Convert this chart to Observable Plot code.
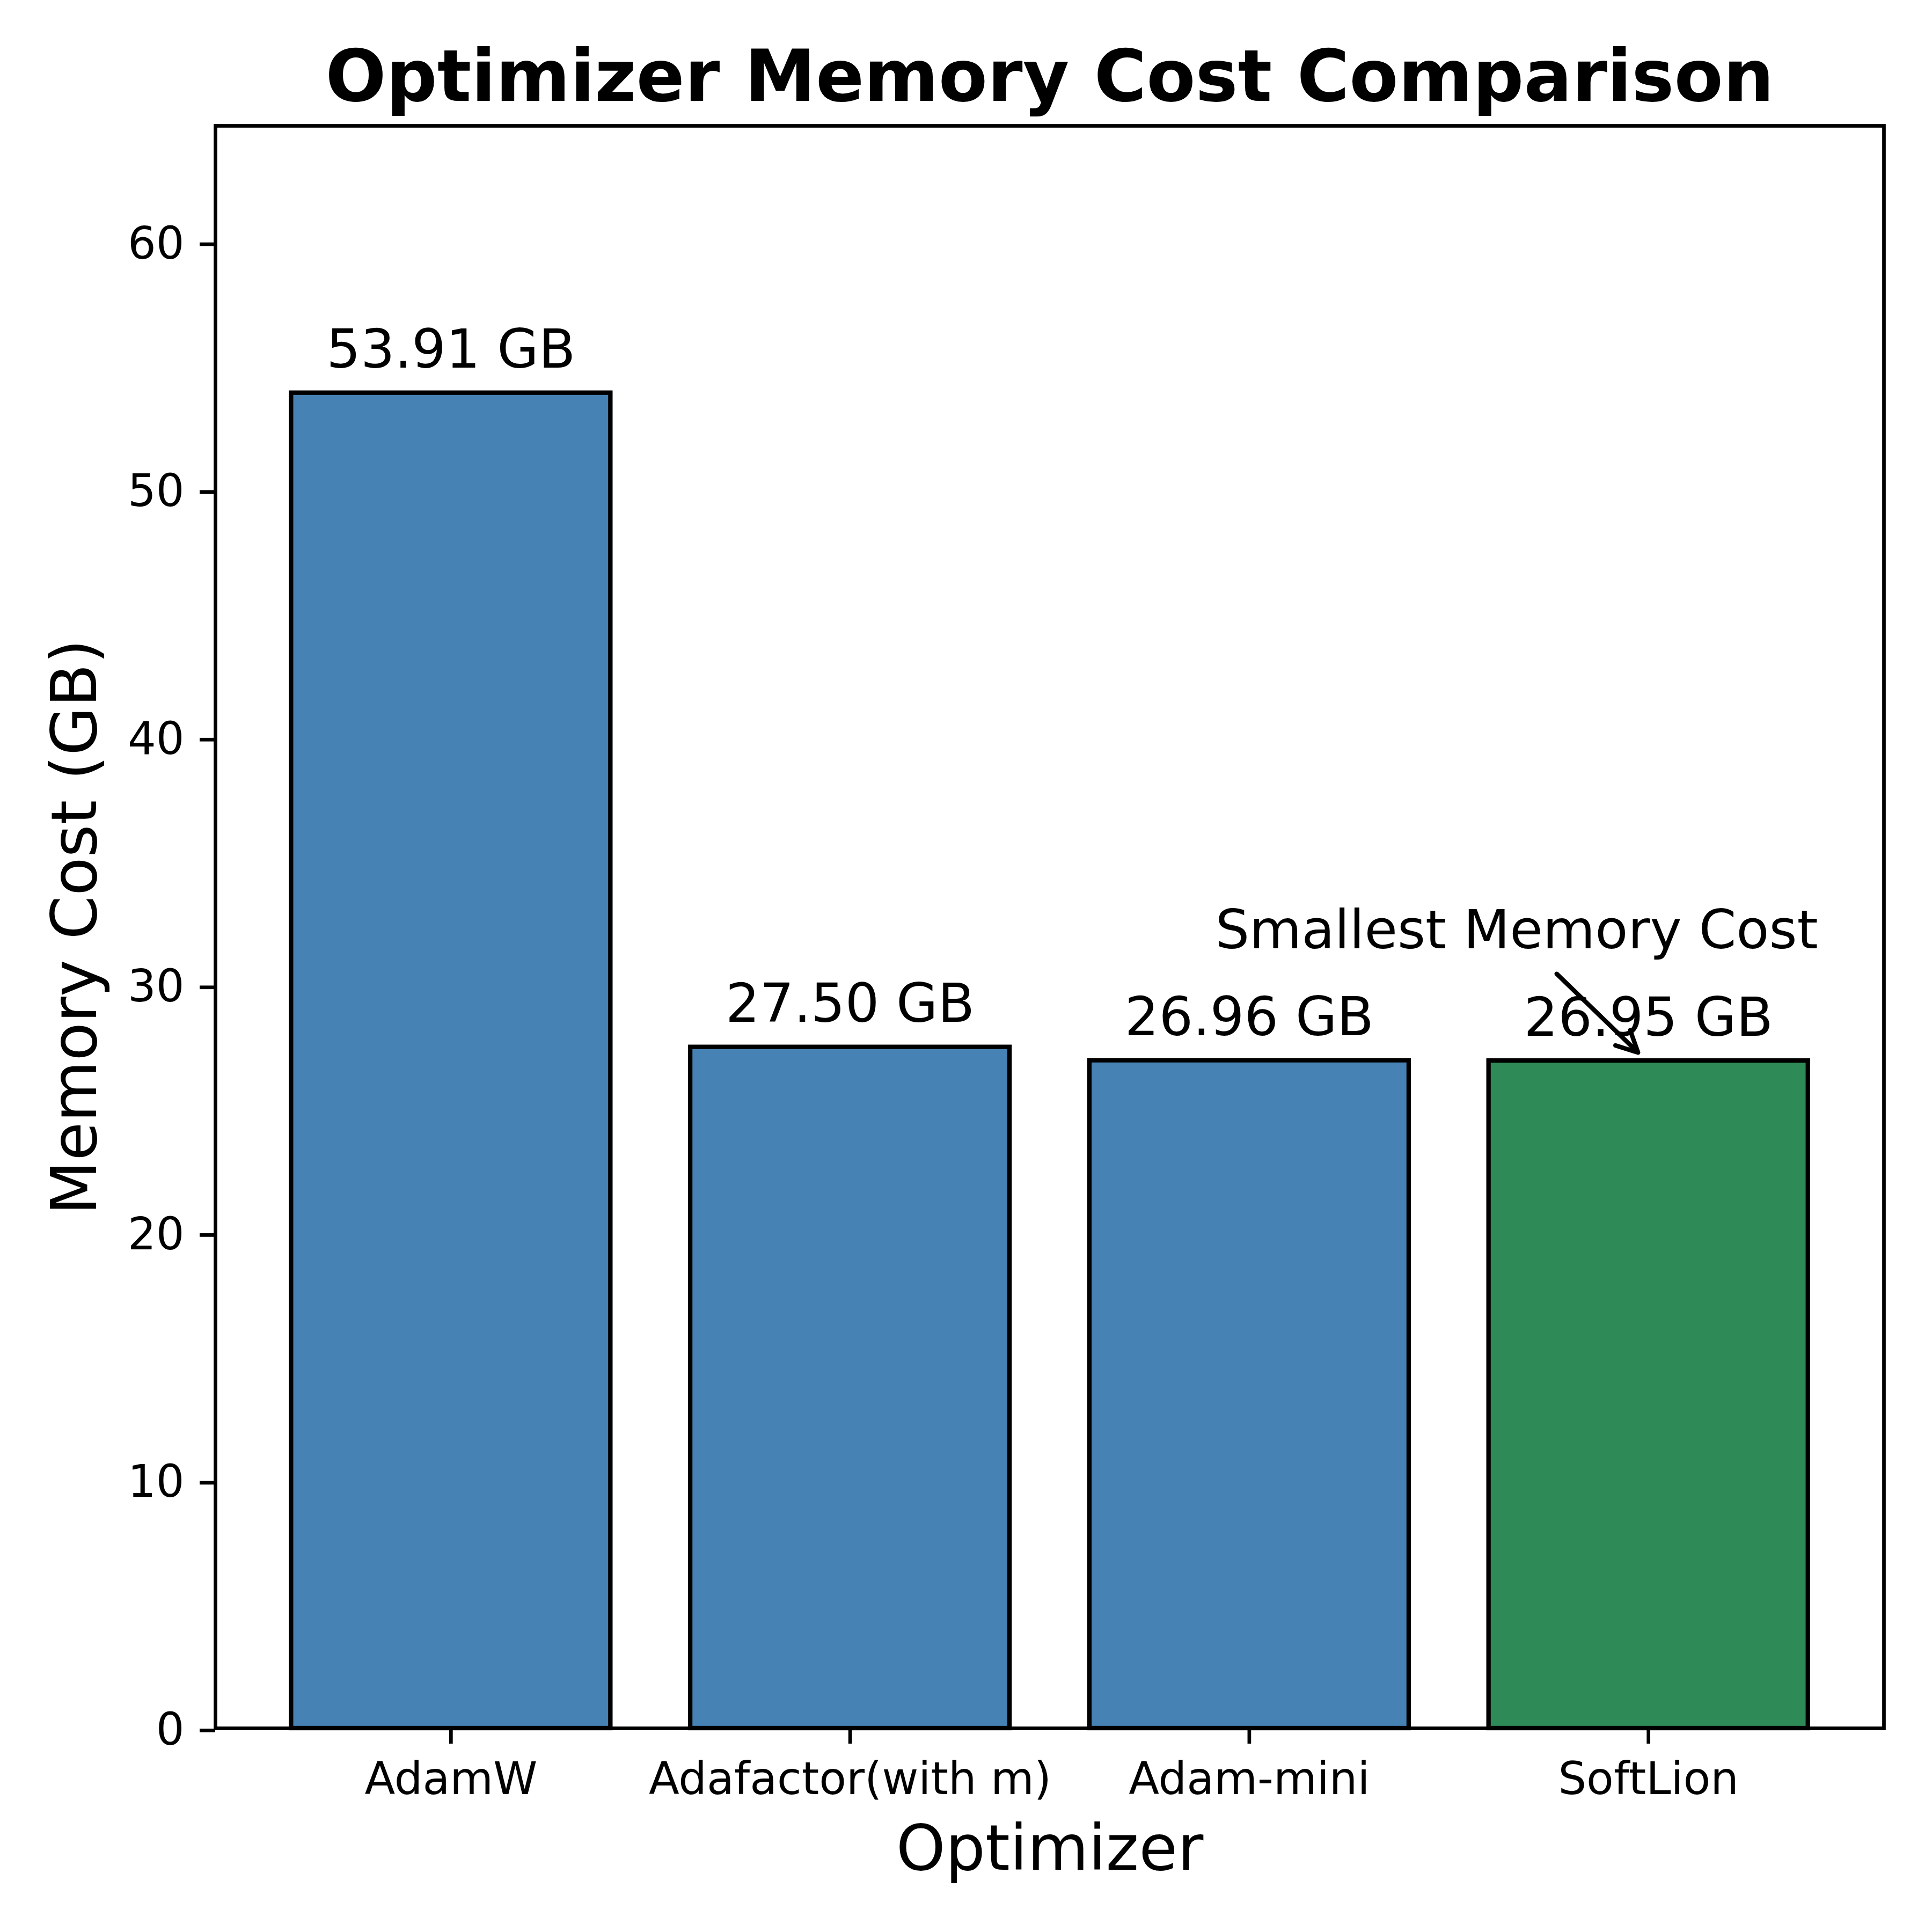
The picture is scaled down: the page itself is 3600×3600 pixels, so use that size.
<!DOCTYPE html>
<html>
<head>
<meta charset="utf-8">
<script src="https://cdn.jsdelivr.net/npm/d3@7"></script>
<script src="https://cdn.jsdelivr.net/npm/@observablehq/plot@0.6"></script>
<style>
  html, body { margin: 0; padding: 0; background: #fff; }
  #chart svg { display: block; }
</style>
</head>
<body>
<div id="chart"></div>
<script>
// ---- Data ----
const optimizers = ["AdamW", "Adafactor(with m)", "Adam-mini", "SoftLion"];
const memoryGB = [53.91, 27.50, 26.96, 26.95];
const barColors = ["steelblue", "steelblue", "steelblue", "seagreen"];
const yTicks = [0, 10, 20, 30, 40, 50, 60];
const titleText = "Optimizer Memory Cost Comparison";
const xLabel = "Optimizer";
const yLabel = "Memory Cost (GB)";
// annotation: text position and arrow (data units: x = category index, y = GB)
const annoText = ["Smallest Memory Cost"];
const annoTextPos = [2.67, 31.48];
const annoArrowFrom = [2.77, 30.46];
const annoArrowTo = [2.974, 27.28];

const rows = optimizers.map((name, i) => ({name, i, value: memoryGB[i], color: barColors[i]}));
const yMax = d3.max(memoryGB) * 1.2;
const halfWidth = 0.4;

const chart = Plot.plot({
  width: 3600,
  height: 3600,
  marginLeft: 401,
  marginRight: 90,
  marginTop: 234,
  marginBottom: 380,
  style: {fontFamily: "'DejaVu Sans', sans-serif", color: "black", background: "white", overflow: "visible"},
  x: {type: "linear", domain: [-0.59, optimizers.length - 1 + 0.59]},
  y: {domain: [0, yMax]},
  marks: [
    Plot.rectY(rows, {
      x1: d => d.i - halfWidth,
      x2: d => d.i + halfWidth,
      y1: 0,
      y2: "value",
      fill: d => d.color,
      stroke: "black",
      strokeWidth: 8.3
    }),
    Plot.text(rows, {
      x: "i",
      y: "value",
      text: d => d.value.toFixed(2) + " GB",
      dy: -47,
      lineAnchor: "bottom",
      textAnchor: "middle",
      fontSize: 100,
      fill: "black"
    }),
    Plot.text(annoText, {
      x: () => annoTextPos[0],
      y: () => annoTextPos[1],
      text: d => d,
      lineAnchor: "bottom",
      textAnchor: "middle",
      fontSize: 100,
      fill: "black"
    }),
    Plot.arrow([0], {
      x1: () => annoArrowFrom[0],
      y1: () => annoArrowFrom[1],
      x2: () => annoArrowTo[0],
      y2: () => annoArrowTo[1],
      stroke: "black",
      strokeWidth: 8.3,
      headLength: 8,
      headAngle: 53
    }),
    Plot.axisX({
      ticks: optimizers.map((_, i) => i),
      tickFormat: i => optimizers[i],
      tickSize: 29,
      tickPadding: 35,
      fontSize: 83,
      strokeWidth: 6.7,
      label: null
    }),
    Plot.axisY({
      ticks: yTicks,
      tickFormat: d => String(d),
      tickSize: 29,
      tickPadding: 29,
      fontSize: 83,
      strokeWidth: 6.7,
      dy: 4,
      label: null
    }),
    Plot.text([xLabel], {
      frameAnchor: "bottom",
      text: d => d,
      dy: 263,
      lineAnchor: "bottom",
      textAnchor: "middle",
      fontSize: 117,
      fill: "black"
    }),
    Plot.text([yLabel], {
      frameAnchor: "left",
      text: d => d,
      dx: -223,
      rotate: -90,
      lineAnchor: "bottom",
      textAnchor: "middle",
      fontSize: 117,
      fill: "black"
    }),
    Plot.text([titleText], {
      frameAnchor: "top",
      text: d => d,
      dy: -47,
      lineAnchor: "bottom",
      textAnchor: "middle",
      fontSize: 133,
      fontWeight: "bold",
      fill: "black"
    }),
    Plot.frame({stroke: "black", strokeWidth: 6.7})
  ]
});
document.getElementById("chart").appendChild(chart);
</script>
</body>
</html>
